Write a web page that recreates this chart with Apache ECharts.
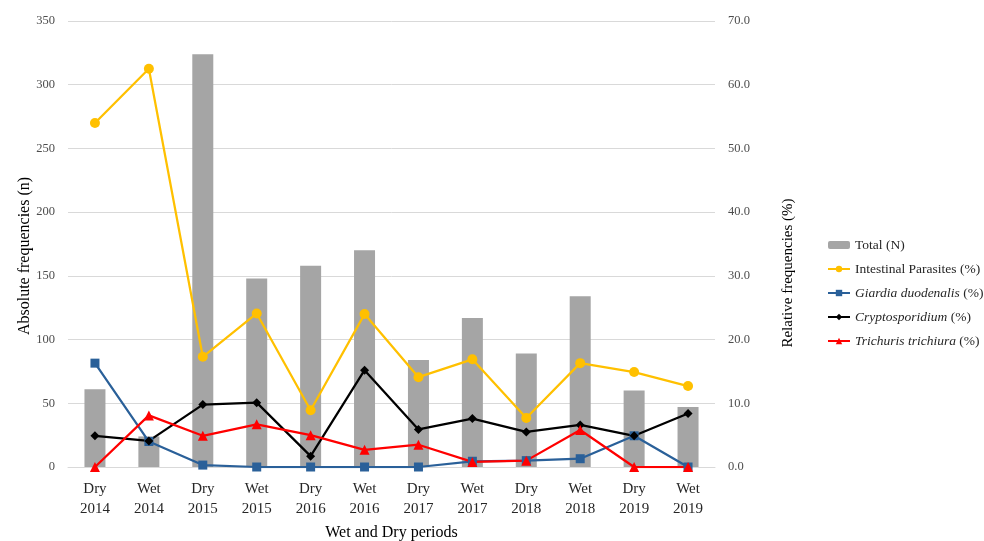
<!DOCTYPE html>
<html>
<head>
<meta charset="utf-8">
<script src="https://cdn.jsdelivr.net/npm/echarts@6/dist/echarts.min.js"></script>
<style>html,body{margin:0;padding:0;background:#fff;}#c{width:984px;height:541px;}</style>
</head>
<body>
<div id="c"></div>
<script>
const categories = ['Dry\n2014','Wet\n2014','Dry\n2015','Wet\n2015','Dry\n2016','Wet\n2016','Dry\n2017','Wet\n2017','Dry\n2018','Wet\n2018','Dry\n2019','Wet\n2019'];
const totalN = [61, 24, 324, 148, 158, 170, 84, 117, 89, 134, 60, 47];
const intestinal = [54.0, 62.5, 17.3, 24.1, 8.9, 24.0, 14.1, 16.9, 7.7, 16.3, 14.9, 12.7];
const giardia = [16.3, 4.0, 0.3, 0, 0, 0, 0, 0.9, 1.0, 1.3, 4.9, 0];
const crypto = [4.9, 4.1, 9.8, 10.1, 1.7, 15.2, 5.9, 7.6, 5.5, 6.6, 4.9, 8.4];
const trichuris = [0, 8.1, 4.9, 6.7, 5.0, 2.7, 3.5, 0.8, 1.0, 5.8, 0, 0];
const leftTicks = {min: 0, max: 350, interval: 50};
const rightTicks = {min: 0, max: 70, interval: 10};

const FONT = '"Liberation Serif", "DejaVu Serif", serif';
const chart = echarts.init(document.getElementById('c'));
chart.setOption({
  backgroundColor: '#fff',
  animation: false,
  textStyle: {fontFamily: FONT},
  grid: {left: 68, right: 269, top: 21, bottom: 74, containLabel: false, outerBoundsMode: 'none'},
  legend: {
    orient: 'vertical',
    left: 822, top: 233,
    itemGap: 10,
    itemWidth: 22, itemHeight: 8,
    textStyle: {fontFamily: FONT, fontSize: 13.5, color: '#262626',
      rich: {i: {fontFamily: FONT, fontSize: 13.5, fontStyle: 'italic', color: '#262626'}}},
    formatter: function (name) {
      if (name === 'Total (N)' || name === 'Intestinal Parasites (%)') return name;
      return '{i|' + name.replace(' (%)', '') + '} (%)';
    },
    data: ['Total (N)', 'Intestinal Parasites (%)', 'Giardia duodenalis (%)', 'Cryptosporidium (%)', 'Trichuris trichiura (%)']
  },
  xAxis: {
    type: 'category',
    data: categories,
    name: 'Wet and Dry periods',
    nameLocation: 'middle',
    nameGap: 58,
    nameTextStyle: {fontFamily: FONT, fontSize: 16, color: '#000'},
    axisLine: {show: true, lineStyle: {color: '#D9D9D9', width: 1}},
    axisTick: {show: false},
    axisLabel: {fontFamily: FONT, fontSize: 15, color: '#262626', lineHeight: 20, margin: 12, interval: 0}
  },
  yAxis: [
    {
      type: 'value', min: leftTicks.min, max: leftTicks.max, interval: leftTicks.interval,
      axisLine: {show: false}, axisTick: {show: false},
      axisLabel: {fontFamily: FONT, fontSize: 12.5, color: '#4d4d4d', margin: 13},
      splitLine: {lineStyle: {color: '#D9D9D9', width: 1}}
    },
    {
      type: 'value', min: rightTicks.min, max: rightTicks.max, interval: rightTicks.interval,
      axisLine: {show: false}, axisTick: {show: false},
      axisLabel: {fontFamily: FONT, fontSize: 12.5, color: '#4d4d4d', margin: 13,
        formatter: function (v) { return v.toFixed(1); }},
      splitLine: {show: false}
    }
  ],
  graphic: [
    {type: 'text', x: 25, y: 256, rotation: Math.PI / 2,
      style: {text: 'Absolute frequencies (n)', font: '16px ' + FONT, fill: '#000', textAlign: 'center', textVerticalAlign: 'middle'}},
    {type: 'text', x: 788, y: 273, rotation: Math.PI / 2,
      style: {text: 'Relative frequencies (%)', font: '15px ' + FONT, fill: '#000', textAlign: 'center', textVerticalAlign: 'middle'}}
  ],
  series: [
    {name: 'Total (N)', type: 'bar', yAxisIndex: 0, data: totalN, barWidth: 21,
      itemStyle: {color: '#A5A5A5'}},
    {name: 'Intestinal Parasites (%)', type: 'line', yAxisIndex: 1, data: intestinal,
      symbol: 'circle', symbolSize: 10, lineStyle: {color: '#FFC000', width: 2.25},
      itemStyle: {color: '#FFC000'}},
    {name: 'Giardia duodenalis (%)', type: 'line', yAxisIndex: 1, data: giardia,
      symbol: 'rect', symbolSize: 9, lineStyle: {color: '#2A6099', width: 2.25},
      itemStyle: {color: '#2A6099'}},
    {name: 'Cryptosporidium (%)', type: 'line', yAxisIndex: 1, data: crypto,
      symbol: 'diamond', symbolSize: 9, lineStyle: {color: '#000000', width: 2.25},
      itemStyle: {color: '#000000'}},
    {name: 'Trichuris trichiura (%)', type: 'line', yAxisIndex: 1, data: trichuris,
      symbol: 'triangle', symbolSize: 10, lineStyle: {color: '#FF0000', width: 2.25},
      itemStyle: {color: '#FF0000'}}
  ]
});
</script>
</body>
</html>
